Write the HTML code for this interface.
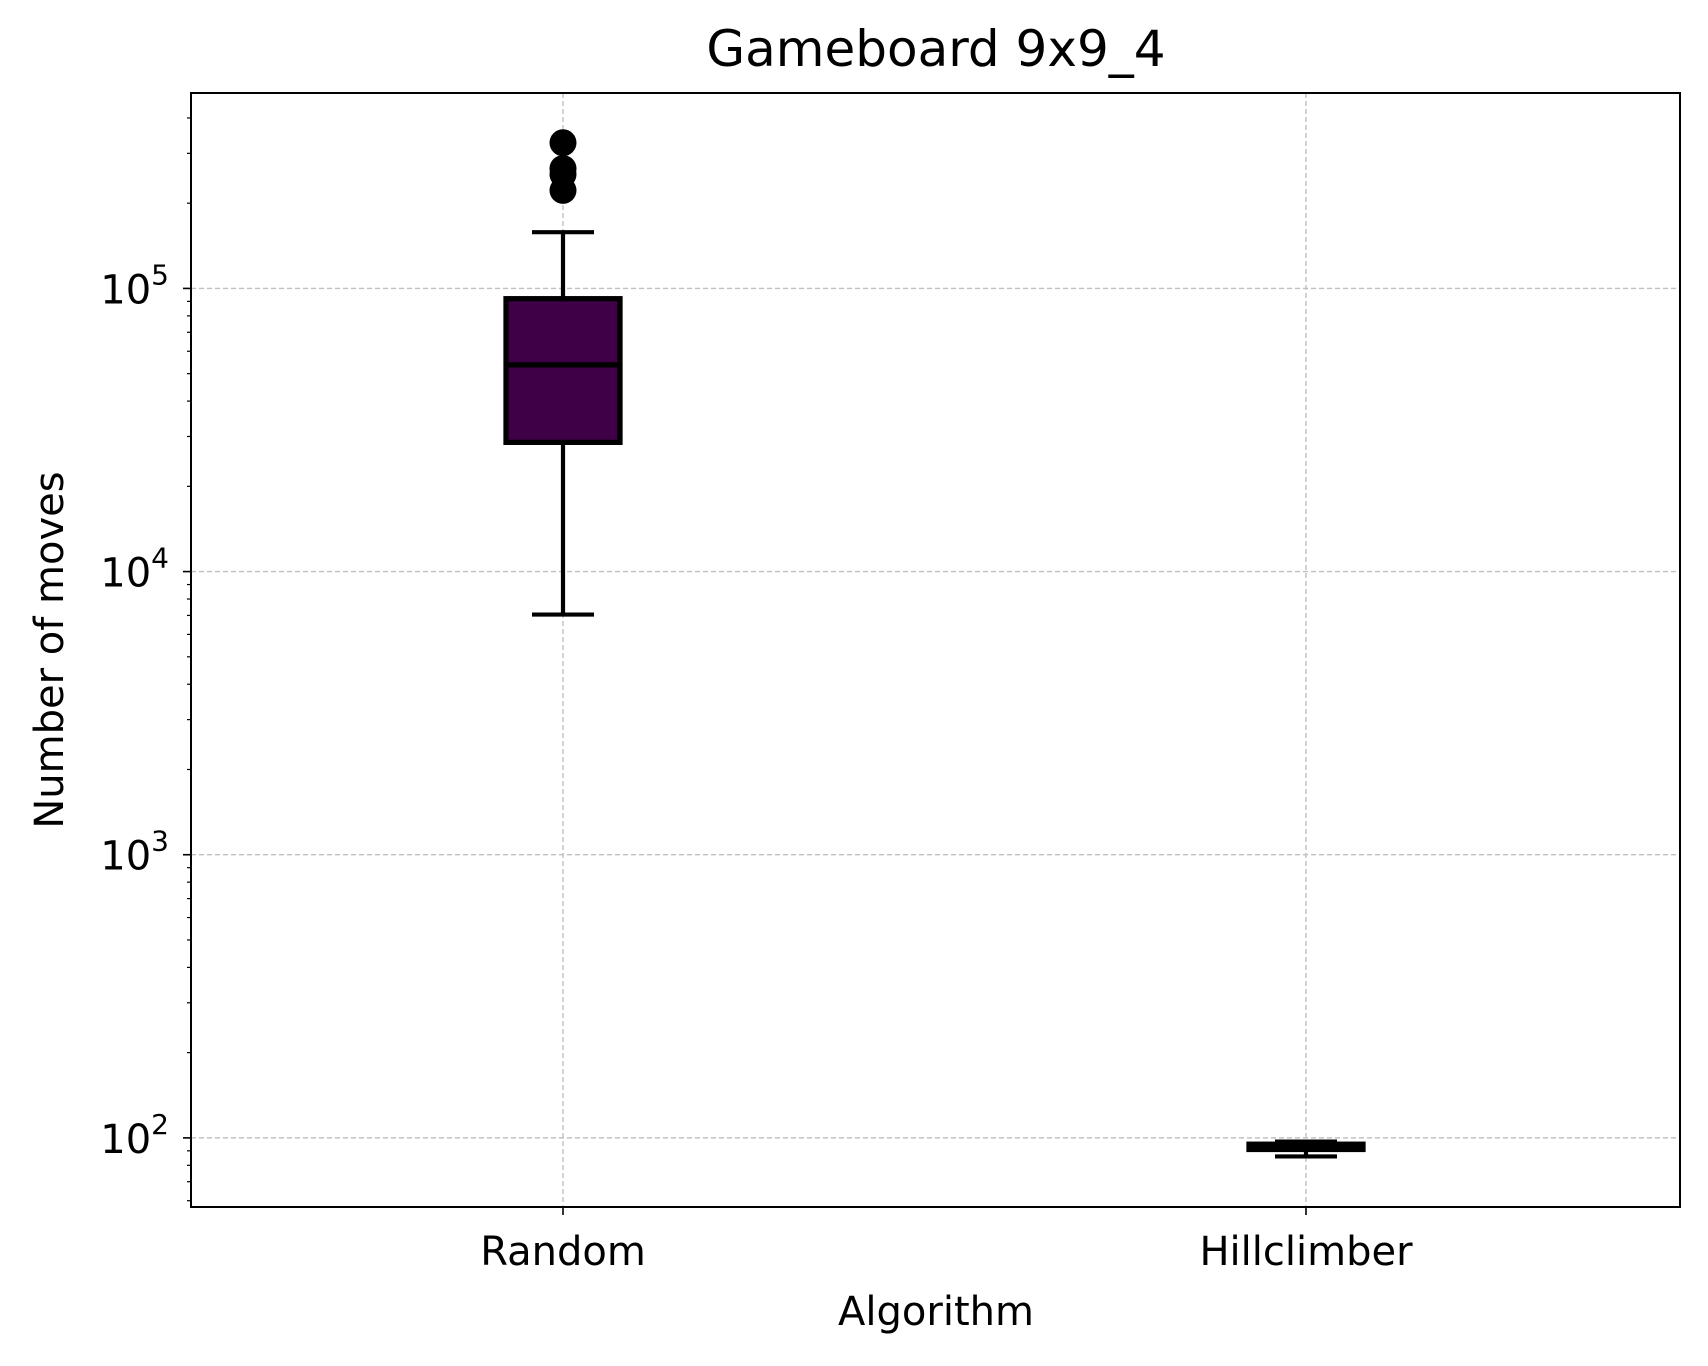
<!DOCTYPE html>
<html><head><meta charset="utf-8"><style>
body{margin:0;background:#fff}
svg text{font-family:"DejaVu Sans","Liberation Sans",sans-serif;fill:#000}
</style></head><body>
<svg id="chart" width="1708" height="1361" xmlns="http://www.w3.org/2000/svg">
<rect width="1708" height="1361" fill="#fff"/>
<g id="grid"></g>
<g id="marks"></g>
<g id="axes"></g>
<text x="936" y="66" font-size="50" text-anchor="middle">Gameboard 9x9_4</text>
<text x="936" y="1325" font-size="40" text-anchor="middle">Algorithm</text>
<text transform="translate(63,650) rotate(-90)" font-size="40" text-anchor="middle">Number of moves</text>
</svg>
<script>
const categories = ["Random", "Hillclimber"];
const whiskerLow = [7050, 86];
const q1 = [28600, 91];
const median = [53700, 93];
const q3 = [92000, 95];
const whiskerHigh = [158000, 97];
const outliers = [[222000, 253000, 265000, 327000], []];
const yTickExps = [2, 3, 4, 5];

const L=191,R=1680,T=93,B=1207;
const logMin=Math.log10(57), logMax=Math.log10(490000);
const y=v=>B-(Math.log10(v)-logMin)/(logMax-logMin)*(B-T);
const xPos=[563,1306];
const x=i=>xPos[i];
const NS="http://www.w3.org/2000/svg";
function mk(tag,attrs,parent){const e=document.createElementNS(NS,tag);for(const k in attrs)e.setAttribute(k,attrs[k]);parent.appendChild(e);return e;}
const grid=document.getElementById('grid'),marks=document.getElementById('marks'),axes=document.getElementById('axes');

yTickExps.forEach(p=>{
  const yy=y(Math.pow(10,p));
  const g=mk('line',{x1:L,x2:R,y1:yy,y2:yy,stroke:'#c0c0c0','stroke-width':1.4,'stroke-dasharray':'5,3'},grid);
  
  
  const t=mk('line',{x1:L-8,x2:L,y1:yy,y2:yy,stroke:'#000','stroke-width':1.6},axes);
  
  
  const lb=mk('text',{x:L-22,y:yy+15,'font-size':40,'text-anchor':'end'},axes);
  
  
  lb.textContent='10';
  const sup=mk('tspan',{dy:-19,'font-size':28},lb);sup.textContent=String(p);
});
for(let p=1;p<=5;p++)for(let m=2;m<=9;m++){
  const v=m*Math.pow(10,p);
  if(Math.log10(v)<logMin||Math.log10(v)>logMax)continue;
  const yy=y(v);
  const t=mk('line',{x1:L-4,x2:L,y1:yy,y2:yy,stroke:'#000','stroke-width':1.2},axes);
  
  
}
categories.forEach((c,i)=>{
  const g=mk('line',{x1:x(i),x2:x(i),y1:T,y2:B,stroke:'#c0c0c0','stroke-width':1.4,'stroke-dasharray':'5,3'},grid);
  
  
  const t=mk('line',{x1:x(i),x2:x(i),y1:B,y2:B+8,stroke:'#000','stroke-width':1.6},axes);
  
  
  const lb=mk('text',{x:x(i),y:B+58,'font-size':40,'text-anchor':'middle'},axes);
  
  
  lb.textContent=c;
});
const fr=mk('rect',{x:L,y:T,width:R-L,height:B-T,fill:'none',stroke:'#000','stroke-width':2},axes);



categories.forEach((c,i)=>{
  const cx=x(i),bw=114,cw=62,sw=4.2;
  const w1=mk('line',{x1:cx,x2:cx,y1:y(whiskerHigh[i]),y2:y(q3[i]),stroke:'#000','stroke-width':sw},marks);
  
  
  const w2=mk('line',{x1:cx,x2:cx,y1:y(q1[i]),y2:y(whiskerLow[i]),stroke:'#000','stroke-width':sw},marks);
  
  
  [whiskerHigh[i],whiskerLow[i]].forEach(v=>{
    const cp=mk('line',{x1:cx-cw/2,x2:cx+cw/2,y1:y(v),y2:y(v),stroke:'#000','stroke-width':sw},marks);
    
    
  });
  const bx=mk('rect',{x:cx-bw/2,y:y(q3[i]),width:bw,height:Math.max(1,y(q1[i])-y(q3[i])),fill:'#400048',stroke:'#000','stroke-width':sw*1.25},marks);
  
  
  const md=mk('line',{x1:cx-bw/2,x2:cx+bw/2,y1:y(median[i]),y2:y(median[i]),stroke:'#000','stroke-width':sw*1.25},marks);
  
  
  outliers[i].forEach(v=>{
    const o=mk('circle',{cx:cx,cy:y(v),r:13.5,fill:'#000'},marks);
    
    
  });
});
</script>
</body></html>
